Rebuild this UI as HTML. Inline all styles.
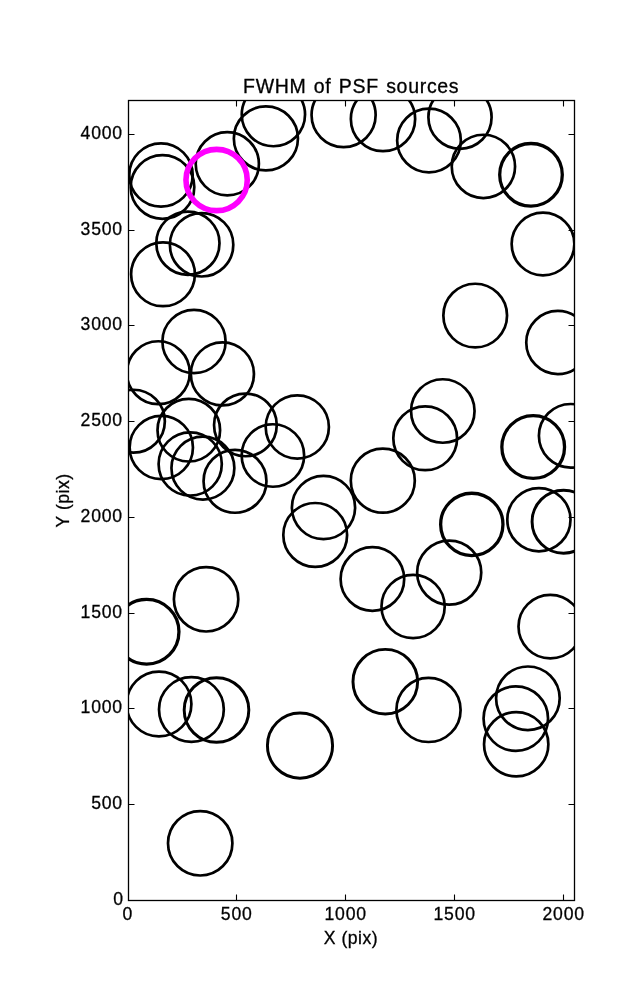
<!DOCTYPE html>
<html><head><meta charset="utf-8"><style>
html,body{margin:0;padding:0;background:#fff;width:637px;height:1000px;overflow:hidden;}
svg{display:block;}
text{filter:grayscale(1);}
</style></head><body>
<svg width="637" height="1000" viewBox="0 0 637 1000"><rect x="0" y="0" width="637" height="1000" fill="#fff"/>
<clipPath id="ax"><rect x="128.5" y="100.5" width="446.0" height="800.0"/></clipPath>
<g clip-path="url(#ax)" fill="none" stroke="#000">
<circle cx="161.0" cy="175.0" r="31.70" stroke-width="2.7"/>
<circle cx="162.5" cy="187.0" r="31.80" stroke-width="2.7"/>
<circle cx="227.3" cy="163.8" r="31.60" stroke-width="2.7"/>
<circle cx="265.9" cy="138.4" r="32.05" stroke-width="2.7"/>
<circle cx="273.4" cy="114.6" r="31.65" stroke-width="2.7"/>
<circle cx="343.6" cy="115.1" r="32.05" stroke-width="2.7"/>
<circle cx="383.0" cy="119.0" r="32.15" stroke-width="2.7"/>
<circle cx="429.0" cy="140.5" r="31.85" stroke-width="2.7"/>
<circle cx="460.0" cy="117.2" r="31.60" stroke-width="2.7"/>
<circle cx="483.4" cy="166.4" r="31.65" stroke-width="2.7"/>
<circle cx="531.0" cy="174.8" r="31.30" stroke-width="3.3"/>
<circle cx="187.9" cy="243.2" r="31.60" stroke-width="2.7"/>
<circle cx="201.6" cy="244.8" r="31.70" stroke-width="2.7"/>
<circle cx="163.0" cy="274.3" r="31.90" stroke-width="2.7"/>
<circle cx="194.0" cy="341.5" r="31.60" stroke-width="2.7"/>
<circle cx="158.3" cy="372.7" r="31.45" stroke-width="2.7"/>
<circle cx="222.4" cy="373.9" r="31.55" stroke-width="2.7"/>
<circle cx="133.4" cy="421.2" r="31.45" stroke-width="2.7"/>
<circle cx="188.8" cy="430.2" r="31.30" stroke-width="2.7"/>
<circle cx="245.4" cy="424.9" r="31.35" stroke-width="2.7"/>
<circle cx="297.3" cy="427.0" r="31.60" stroke-width="2.7"/>
<circle cx="161.3" cy="447.5" r="31.65" stroke-width="2.7"/>
<circle cx="190.2" cy="464.0" r="31.60" stroke-width="2.7"/>
<circle cx="202.9" cy="468.1" r="31.45" stroke-width="2.7"/>
<circle cx="235.0" cy="481.3" r="31.45" stroke-width="2.7"/>
<circle cx="272.9" cy="455.5" r="31.25" stroke-width="2.7"/>
<circle cx="543.0" cy="244.0" r="31.35" stroke-width="2.7"/>
<circle cx="475.2" cy="315.6" r="31.85" stroke-width="2.7"/>
<circle cx="557.8" cy="342.5" r="31.55" stroke-width="2.7"/>
<circle cx="442.8" cy="411.0" r="31.75" stroke-width="2.7"/>
<circle cx="425.2" cy="438.3" r="31.90" stroke-width="2.7"/>
<circle cx="382.8" cy="480.7" r="32.00" stroke-width="2.7"/>
<circle cx="471.8" cy="524.4" r="31.15" stroke-width="3.3"/>
<circle cx="323.5" cy="507.5" r="31.60" stroke-width="2.7"/>
<circle cx="315.2" cy="534.9" r="31.90" stroke-width="2.7"/>
<circle cx="372.4" cy="579.0" r="31.80" stroke-width="2.7"/>
<circle cx="413.1" cy="606.5" r="31.60" stroke-width="2.7"/>
<circle cx="538.9" cy="519.7" r="31.60" stroke-width="2.7"/>
<circle cx="563.6" cy="521.7" r="31.52" stroke-width="2.95"/>
<circle cx="449.2" cy="572.6" r="32.05" stroke-width="2.7"/>
<circle cx="550.3" cy="626.6" r="31.80" stroke-width="2.7"/>
<circle cx="533.2" cy="447.0" r="31.35" stroke-width="3.3"/>
<circle cx="570.7" cy="435.8" r="31.80" stroke-width="2.7"/>
<circle cx="385.3" cy="681.7" r="32.32" stroke-width="2.95"/>
<circle cx="428.5" cy="709.9" r="32.10" stroke-width="2.7"/>
<circle cx="527.9" cy="698.3" r="31.80" stroke-width="2.7"/>
<circle cx="515.8" cy="718.6" r="32.25" stroke-width="2.7"/>
<circle cx="516.2" cy="744.2" r="32.15" stroke-width="2.7"/>
<circle cx="206.1" cy="599.3" r="32.20" stroke-width="2.7"/>
<circle cx="146.6" cy="631.8" r="32.35" stroke-width="3.3"/>
<circle cx="159.0" cy="704.0" r="32.40" stroke-width="2.7"/>
<circle cx="191.4" cy="709.5" r="32.40" stroke-width="2.7"/>
<circle cx="216.5" cy="710.0" r="32.32" stroke-width="2.95"/>
<circle cx="200.2" cy="843.3" r="32.20" stroke-width="2.7"/>
<circle cx="300.0" cy="745.6" r="32.57" stroke-width="2.95"/>
<circle cx="216.6" cy="180.0" r="30.65" stroke="#f0f" stroke-width="5.6"/>
</g>
<rect x="128.5" y="100.5" width="446.0" height="800.0" fill="none" stroke="#000" stroke-width="1.3"/>
<path d="M236.5 900.5v-6M236.5 100.5v6M345.5 900.5v-6M345.5 100.5v6M454.5 900.5v-6M454.5 100.5v6M563.5 900.5v-6M563.5 100.5v6M128.5 804.5h6M574.5 804.5h-6M128.5 708.5h6M574.5 708.5h-6M128.5 613.5h6M574.5 613.5h-6M128.5 517.5h6M574.5 517.5h-6M128.5 421.5h6M574.5 421.5h-6M128.5 325.5h6M574.5 325.5h-6M128.5 230.5h6M574.5 230.5h-6M128.5 134.5h6M574.5 134.5h-6" stroke="#000" stroke-width="1.1" fill="none"/>
<g font-family='"Liberation Sans", sans-serif' font-size="17.6" fill="#000" stroke="#000" stroke-width="0.3"><text x="123.90" y="904.80" text-anchor="end" letter-spacing="0.8">0</text><text x="122.90" y="808.80" text-anchor="end" letter-spacing="0.8">500</text><text x="122.90" y="712.80" text-anchor="end" letter-spacing="0.8">1000</text><text x="122.90" y="617.80" text-anchor="end" letter-spacing="0.8">1500</text><text x="122.90" y="521.80" text-anchor="end" letter-spacing="0.8">2000</text><text x="122.90" y="425.80" text-anchor="end" letter-spacing="0.8">2500</text><text x="122.90" y="329.80" text-anchor="end" letter-spacing="0.8">3000</text><text x="122.90" y="234.80" text-anchor="end" letter-spacing="0.8">3500</text><text x="122.90" y="138.80" text-anchor="end" letter-spacing="0.8">4000</text><text x="127.70" y="920.2" text-anchor="middle" letter-spacing="0.8">0</text><text x="236.70" y="920.2" text-anchor="middle" letter-spacing="0.8">500</text><text x="345.70" y="920.2" text-anchor="middle" letter-spacing="0.8">1000</text><text x="454.70" y="920.2" text-anchor="middle" letter-spacing="0.8">1500</text><text x="563.70" y="920.2" text-anchor="middle" letter-spacing="0.8">2000</text></g>
<text x="351.2" y="92.7" text-anchor="middle" font-family='"Liberation Sans", sans-serif' font-size="19.5" letter-spacing="0.7" word-spacing="1.2" fill="#000" stroke="#000" stroke-width="0.3">FWHM of PSF sources</text>
<text x="351" y="943.8" text-anchor="middle" font-family='"Liberation Sans", sans-serif' font-size="17.6" letter-spacing="0.5" fill="#000" stroke="#000" stroke-width="0.3">X (pix)</text>
<text x="0" y="0" transform="translate(68.5 500.4) rotate(-90)" text-anchor="middle" font-family='"Liberation Sans", sans-serif' font-size="17.6" letter-spacing="0.5" fill="#000" stroke="#000" stroke-width="0.3">Y (pix)</text></svg>
</body></html>
